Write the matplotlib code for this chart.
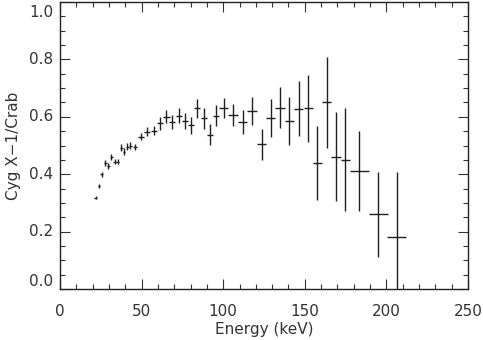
import matplotlib
matplotlib.use("Agg")
import matplotlib.pyplot as plt
from matplotlib.ticker import MultipleLocator

# energy bin centres (keV) and half widths
energy = [21.9, 23.9, 25.7, 27.8, 29.6, 31.5, 33.5, 35.3, 37.4, 39.2,
          41.3, 43.1, 46.0, 49.4, 53.5, 57.4, 61.3, 65.2, 68.8, 72.7,
          76.6, 80.3, 84.1, 88.0, 91.9, 95.6, 100.2, 106.0, 111.9, 117.6,
          123.6, 129.1, 134.8, 140.5, 146.2, 152.2, 157.7, 163.4, 169.1, 174.8,
          183.4, 195.1, 206.3]
energy_err = [0.9, 0.9, 0.9, 0.9, 0.9, 0.9, 0.9, 0.9, 0.9, 0.9,
              0.9, 0.9, 1.4, 1.9, 1.9, 1.9, 1.9, 1.9, 1.9, 1.9,
              1.9, 1.9, 1.9, 1.9, 1.9, 1.9, 2.9, 2.9, 2.9, 2.9,
              2.9, 2.9, 2.9, 2.9, 2.9, 2.9, 2.9, 2.9, 2.9, 2.9,
              5.7, 5.7, 5.8]
# Cyg X-1 / Crab ratio and 1-sigma errors
ratio = [0.318, 0.359, 0.400, 0.438, 0.429, 0.459, 0.444, 0.444, 0.492, 0.478,
         0.496, 0.500, 0.496, 0.531, 0.548, 0.552, 0.577, 0.600, 0.581, 0.603,
         0.586, 0.570, 0.630, 0.595, 0.538, 0.604, 0.630, 0.606, 0.581, 0.620,
         0.504, 0.595, 0.632, 0.585, 0.628, 0.629, 0.438, 0.650, 0.461, 0.451,
         0.411, 0.260, 0.181]
ratio_err = [0.005, 0.007, 0.009, 0.010, 0.010, 0.010, 0.010, 0.010, 0.012, 0.012,
             0.012, 0.012, 0.010, 0.013, 0.016, 0.017, 0.022, 0.022, 0.024, 0.026,
             0.027, 0.030, 0.033, 0.037, 0.036, 0.037, 0.034, 0.038, 0.041, 0.050,
             0.053, 0.067, 0.071, 0.084, 0.096, 0.116, 0.129, 0.159, 0.155, 0.178,
             0.138, 0.149, 0.227]
yticks = [0.0, 0.2, 0.4, 0.6, 0.8, 1.0]

plt.rcParams['font.family'] = ['DejaVu Sans']
txt = '#333333'

fig = plt.figure(figsize=(4.83, 3.40), dpi=100)
ax = fig.add_axes([60/483, 51/340, 408/483, 287/340])

ax.errorbar(energy, ratio, xerr=energy_err, yerr=ratio_err, fmt='none',
            ecolor='#202020', elinewidth=1.0, capsize=0)

ax.set_xlim(0, 250)
ax.set_ylim(0, 1.0)
ax.xaxis.set_major_locator(MultipleLocator(50))
ax.xaxis.set_minor_locator(MultipleLocator(10))
ax.set_yticks(yticks)
ax.yaxis.set_minor_locator(MultipleLocator(0.05))

ax.tick_params(which='both', direction='in', top=True, right=True,
               labelsize=11, colors=txt, width=0.8)
ax.tick_params(which='major', length=7)
ax.tick_params(which='minor', length=3.5)
ax.tick_params(axis='x', which='major', pad=11)
ax.tick_params(axis='y', labelleft=False)
for s in ax.spines.values():
    s.set_linewidth(1.0)
    s.set_color('#222222')

# y tick labels drawn by hand: IDL style, end labels kept inside the frame
for v in yticks:
    va = 'center'
    dy = 0
    if v == yticks[0]:
        va = 'bottom'
    elif v == yticks[-1]:
        va, dy = 'top', -2
    ax.annotate('%.1f' % v, xy=(0, v), xycoords=('axes fraction', 'data'),
                xytext=(-5, dy), textcoords='offset points',
                ha='right', va=va, fontsize=11, color=txt)

ax.set_xlabel('Energy (keV)', fontsize=11, color=txt, labelpad=2)
ax.set_ylabel('Cyg X\u22121/Crab', fontsize=11, color=txt, labelpad=25)

fig.savefig('out.png', dpi=100)
